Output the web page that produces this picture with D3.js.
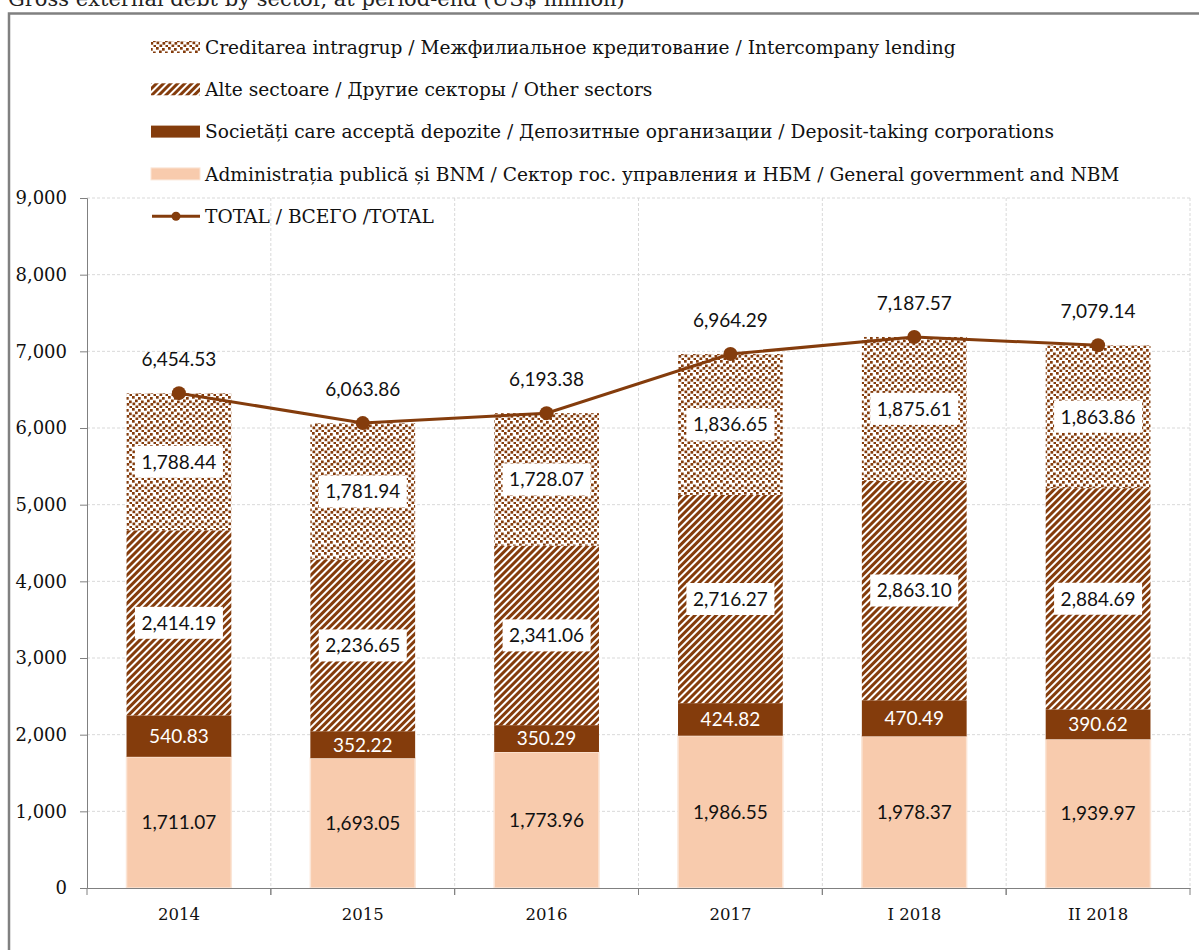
<!doctype html>
<html>
<head>
<meta charset="utf-8">
<script src="https://d3js.org/d3.v7.min.js"></script>
<style>
  body { margin: 0; background: #fff; }
  .serif { font-family: "DejaVu Serif", serif; }
  .sans { font-family: Lato, "Open Sans", sans-serif; }
</style>
</head>
<body>
<svg id="chart" width="1199" height="950"></svg>
<script>
// data, US$ million
var periods = ["2014", "2015", "2016", "2017", "I 2018", "II 2018"];
var govNbm = [1711.07, 1693.05, 1773.96, 1986.55, 1978.37, 1939.97];
var depositTaking = [540.83, 352.22, 350.29, 424.82, 470.49, 390.62];
var otherSectors = [2414.19, 2236.65, 2341.06, 2716.27, 2863.10, 2884.69];
var intercompany = [1788.44, 1781.94, 1728.07, 1836.65, 1875.61, 1863.86];
var total = [6454.53, 6063.86, 6193.38, 6964.29, 7187.57, 7079.14];
var yTicks = [0, 1000, 2000, 3000, 4000, 5000, 6000, 7000, 8000, 9000];

var legendLabels = [
  "Creditarea intragrup / Межфилиальное кредитование / Intercompany lending",
  "Alte sectoare / Другие секторы / Other sectors",
  "Societăți care acceptă depozite / Депозитные организации / Deposit-taking corporations",
  "Administrația publică și BNM / Сектор гос. управления и НБМ / General government and NBM",
  "TOTAL / ВСЕГО /TOTAL"
];

var brown = "#843c0c", peach = "#f8cbad";
var svg = d3.select("#chart");

// patterns
var defs = svg.append("defs");
var hatch = defs.append("pattern").attr("id", "hatch")
  .attr("patternUnits", "userSpaceOnUse").attr("width", 5).attr("height", 5)
  .attr("patternTransform", "rotate(45)");
hatch.append("rect").attr("width", 5).attr("height", 5).attr("fill", "#fff");
hatch.append("rect").attr("width", 3).attr("height", 5).attr("fill", brown);

var confetti = defs.append("pattern").attr("id", "confetti")
  .attr("patternUnits", "userSpaceOnUse").attr("width", 12).attr("height", 12);
confetti.append("rect").attr("width", 12).attr("height", 12).attr("fill", "#fff");
[[0,0],[6,1],[3,3.5],[9,4.5],[0.5,6.5],[6.5,7],[3.5,9.5],[9.5,10]].forEach(function(p) {
  confetti.append("rect").attr("x", p[0]).attr("y", p[1])
    .attr("width", 2.7).attr("height", 2.7).attr("fill", brown);
});

// frame and cut title
svg.append("text").attr("class", "serif").attr("x", 8).attr("y", 6)
  .attr("font-size", 21).attr("fill", "#222")
  .text("Gross external debt by sector, at period-end (US$ million)");
svg.append("path").attr("d", "M9,950V13.5H1199").attr("fill", "none")
  .attr("stroke", "#808080").attr("stroke-width", 2.5);

var m = { left: 87, right: 1190, top: 198, bottom: 888 };
var x = d3.scaleBand().domain(periods).range([m.left, m.right]).paddingInner(0.43).paddingOuter(0.215);
var xb = d3.scaleBand().domain(periods).range([m.left, m.right]);
var y = d3.scaleLinear().domain([0, 9000]).range([m.bottom, m.top]);

// grid
var grid = svg.append("g").attr("stroke", "#d9d9d9").attr("stroke-dasharray", "3,2").attr("stroke-width", 1);
yTicks.slice(1).forEach(function(t) {
  grid.append("line").attr("x1", m.left).attr("x2", m.right).attr("y1", y(t)).attr("y2", y(t));
});
periods.forEach(function(p) {
  var xx = xb(p) + xb.bandwidth();
  grid.append("line").attr("x1", xx).attr("x2", xx).attr("y1", m.top).attr("y2", m.bottom);
});

// stacked bars
var rows = periods.map(function(p, i) {
  return { period: p, gov: govNbm[i], dep: depositTaking[i], oth: otherSectors[i], inter: intercompany[i] };
});
var keys = ["gov", "dep", "oth", "inter"];
var fills = { gov: peach, dep: brown, oth: "url(#hatch)", inter: "url(#confetti)" };
var stack = d3.stack().keys(keys)(rows);

var layers = svg.append("g").selectAll("g").data(stack).join("g")
  .attr("fill", function(d) { return fills[d.key]; });
layers.selectAll("rect").data(function(d) { return d; }).join("rect")
  .attr("x", function(d) { return x(d.data.period); })
  .attr("width", x.bandwidth())
  .attr("y", function(d) { return y(d[1]); })
  .attr("height", function(d) { return y(d[0]) - y(d[1]); })
  .attr("stroke", function(d, i, n) { return d3.select(n[i].parentNode).datum().key === "gov" ? "#fbe5d6" : "none"; })
  .attr("stroke-width", 1.5);

// axes
var yAxis = svg.append("g").attr("transform", "translate(" + m.left + ",0)")
  .call(d3.axisLeft(y).tickValues(yTicks).tickFormat(d3.format(",")).tickSizeOuter(0).tickSize(7).tickPadding(13));
yAxis.select(".domain").attr("stroke", "#808080");
yAxis.selectAll(".tick line").attr("stroke", "#808080");
yAxis.selectAll("text").attr("class", "serif").attr("font-size", 18).attr("fill", "#111");

var xAxis = svg.append("g").attr("transform", "translate(0," + m.bottom + ")")
  .call(d3.axisBottom(xb).tickSize(0).tickPadding(20));
xAxis.select(".domain").attr("stroke", "#808080");
xAxis.selectAll("text").attr("class", "serif").attr("font-size", 16.5).attr("fill", "#111");
periods.forEach(function(p) {
  [xb(p), xb(p) + xb.bandwidth()].forEach(function(xx) {
    xAxis.append("line").attr("x1", xx).attr("x2", xx).attr("y1", 0).attr("y2", 7).attr("stroke", "#808080");
  });
});

// segment labels
var fmt = d3.format(",.2f");
stack.forEach(function(layer) {
  layer.forEach(function(d) {
    var cx = x(d.data.period) + x.bandwidth() / 2;
    var cy = y((d[0] + d[1]) / 2);
    var v = d.data[layer.key];
    var boxed = layer.key === "oth" || layer.key === "inter";
    if (boxed) {
      svg.append("rect").attr("x", cx - 44).attr("y", cy - 16).attr("width", 88).attr("height", 32).attr("fill", "#fff");
    }
    svg.append("text").attr("class", "sans").attr("x", cx).attr("y", cy)
      .attr("dy", "0.36em").attr("text-anchor", "middle").attr("font-size", 19)
      .attr("fill", layer.key === "dep" ? "#fff" : "#111").text(fmt(v));
  });
});

// total line
var line = d3.line().x(function(d, i) { return xb(periods[i]) + xb.bandwidth() / 2; }).y(function(d) { return y(d); });
svg.append("path").datum(total).attr("d", line).attr("fill", "none").attr("stroke", brown).attr("stroke-width", 3);
svg.append("g").selectAll("circle").data(total).join("circle")
  .attr("cx", function(d, i) { return xb(periods[i]) + xb.bandwidth() / 2; })
  .attr("cy", function(d) { return y(d); }).attr("r", 7).attr("fill", brown);
svg.append("g").selectAll("text").data(total).join("text")
  .attr("class", "sans").attr("text-anchor", "middle").attr("font-size", 19).attr("fill", "#111")
  .attr("x", function(d, i) { return xb(periods[i]) + xb.bandwidth() / 2; })
  .attr("y", function(d) { return y(d) - 27; }).text(fmt);

// legend
var lg = svg.append("g");
legendLabels.forEach(function(t, i) {
  var ly = 47 + i * 42.3;
  var g = lg.append("g").attr("transform", "translate(0," + ly + ")");
  if (i < 4) {
    var f = [ "url(#confetti)", "url(#hatch)", brown, peach ][i];
    g.append("rect").attr("x", 151).attr("y", -6).attr("width", 49).attr("height", 12).attr("fill", f)
      .attr("stroke", i === 3 ? "#fbe5d6" : "none");
  } else {
    g.append("line").attr("x1", 152).attr("x2", 200).attr("y1", 0).attr("y2", 0).attr("stroke", brown).attr("stroke-width", 3);
    g.append("circle").attr("cx", 176).attr("cy", 0).attr("r", 4.5).attr("fill", brown);
  }
  g.append("text").attr("class", "serif").attr("x", 205).attr("y", 0).attr("dy", "0.36em")
    .attr("font-size", 18.6).attr("fill", "#111").text(t);
});
</script>
</body>
</html>
